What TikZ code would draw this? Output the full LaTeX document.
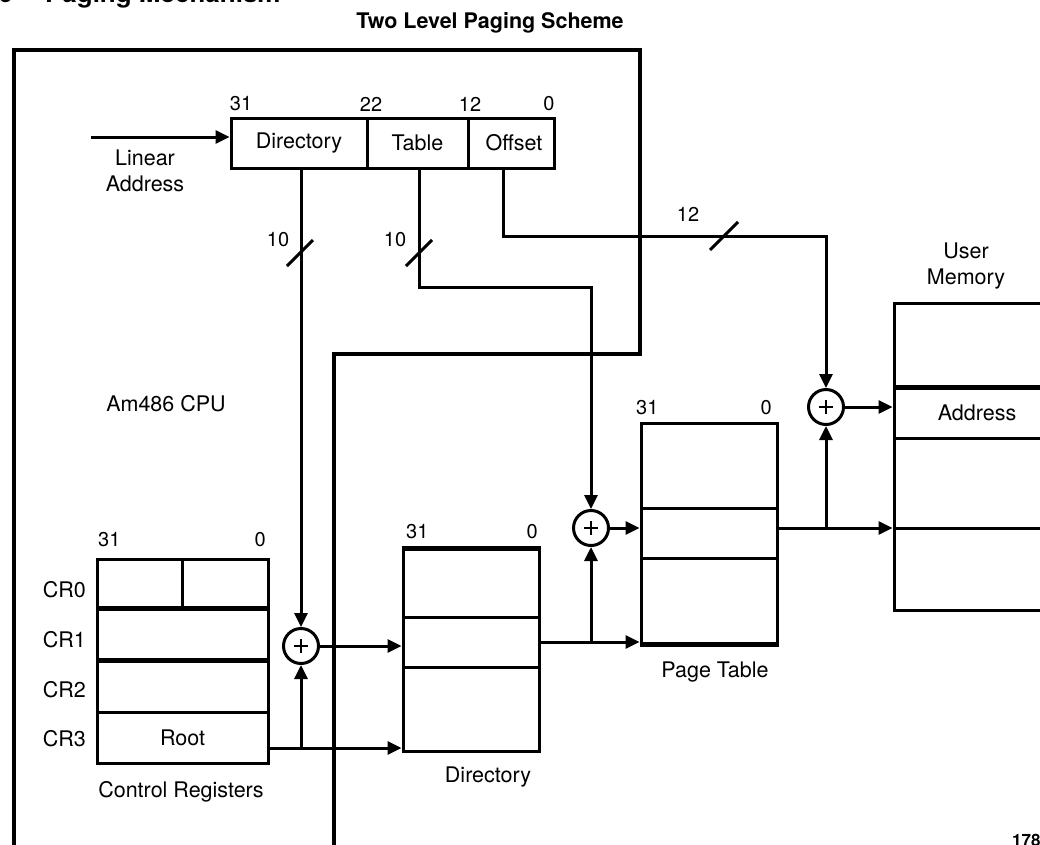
\documentclass[tikz,border=0pt]{standalone}
\usepackage{fontspec}
\setmainfont{TeX Gyre Heros}
\usetikzlibrary{arrows.meta}
\begin{document}
\begin{tikzpicture}[x=1pt,y=-1pt,
  lbl/.style={inner sep=0pt, font=\fontsize{21.5}{24}\selectfont},
  num/.style={inner sep=0pt, font=\fontsize{20}{24}\selectfont},
  frameline/.style={line width=4.5pt},
  box/.style={draw, line width=3pt, inner sep=0pt, font=\fontsize{21.5}{24}\selectfont},
  conn/.style={line width=3pt},
  arr/.style={conn, -{Triangle[length=14pt,width=13pt]}},
  adder/.style={circle, draw, line width=3pt, minimum size=35pt, inner sep=0pt,
    path picture={\draw[line width=2.2pt] (path picture bounding box.center) +(-7,0) -- +(7,0)
      (path picture bounding box.center) +(0,-7) -- +(0,7);}},
  busmark/.style={line width=3pt}
]
\useasboundingbox (0,0) rectangle (1040,844);

% clipped headings
\node[anchor=base east, inner sep=0pt, font=\fontsize{26}{28}\selectfont\bfseries] (fignum) at (13,2) {6};
\node[anchor=base west, inner sep=0pt, font=\fontsize{26}{28}\selectfont\bfseries] (figtitle) at (45,2) {Paging Mechanism};
\node[inner sep=0pt, font=\fontsize{21.5}{24}\selectfont\bfseries] (scheme) at (490,23) {Two Level Paging Scheme};
\node[anchor=west, inner sep=0pt, font=\fontsize{17}{20}\selectfont\bfseries] (figid) at (1012,840) {178};

% CPU frame
\draw[frameline] (14,850) -- (14,50) -- (640,50) -- (640,354) -- (334,354) -- (334,850);
\node[lbl] (cpu) at (166,404) {Am486 CPU};

% Linear address
\node[box, minimum width=136pt, minimum height=50pt] (ladir) at (299,143) {Directory};
\node[box, minimum width=101pt, minimum height=50pt] (latab) at (417.5,143) {Table};
\node[box, minimum width=86pt, minimum height=50pt] (laoff) at (511,143) {\hspace{6pt}Offset};
\node[num] (b31) at (241,104) {31};
\node[num] (b22) at (371,104) {22};
\node[num] (b12) at (470,104) {12};
\node[num] (b0) at (549,104) {0};
\coordinate (lin) at (91,137);
\draw[arr] (lin) -- (lin -| ladir.west);
\node[lbl, align=center] (linlbl) at (145,171) {Linear\\[2pt]Address};

% Control registers
\node[box, minimum width=171pt, minimum height=50pt] (cr0) at (182.5,584) {};
\node[box, minimum width=171pt, minimum height=52pt] (cr1) at (182.5,635) {};
\node[box, minimum width=171pt, minimum height=51pt] (cr2) at (182.5,686.5) {};
\node[box, minimum width=171pt, minimum height=51pt] (cr3) at (182.5,737.5) {Root};
\draw[line width=3pt] (cr0.north) -- (cr0.south);
\draw[line width=4pt] (cr1.north west) -- (cr1.north east);
\draw[line width=4pt] (cr2.north west) -- (cr2.north east);
\node[num, anchor=west] (c31) at (98,540) {31};
\node[num, anchor=east] (c0) at (266,540) {0};
\node[lbl, anchor=east] (l0) at (86,590) {CR0};
\node[lbl, anchor=east] (l1) at (86,640) {CR1};
\node[lbl, anchor=east] (l2) at (86,690) {CR2};
\node[lbl, anchor=east] (l3) at (86,739) {CR3};
\node[lbl] (crlbl) at (181,792) {Control Registers};

% Directory
\node[box, minimum width=136pt, minimum height=68pt] (d0) at (471,583) {};
\node[box, minimum width=136pt, minimum height=50pt] (d1) at (471,642) {};
\node[box, minimum width=136pt, minimum height=84pt] (d2) at (471,709) {};
\draw[line width=4pt] (d0.north west) -- (d0.north east);
\node[num, anchor=west] (d31) at (406,532) {31};
\node[num, anchor=east] (dz) at (538,532) {0};
\node[lbl] (dlbl) at (488,777) {Directory};

% Page table
\node[box, minimum width=136pt, minimum height=85pt] (p0) at (709,465.5) {};
\node[box, minimum width=136pt, minimum height=50pt] (p1) at (709,533) {};
\node[box, minimum width=136pt, minimum height=85pt] (p2) at (709,600.5) {};
\draw[line width=4pt] (p2.south west) -- (p2.south east);
\node[num, anchor=west] (p31) at (636,408) {31};
\node[num, anchor=east] (pz) at (772,408) {0};
\node[lbl] (plbl) at (715,672) {Page Table};

% User memory
\node[box, minimum width=176pt, minimum height=85pt] (m0) at (982,345.5) {};
\node[box, minimum width=176pt, minimum height=50pt] (m1) at (982,413) {\hspace{-10pt}Address};
\node[box, minimum width=176pt, minimum height=90pt] (m2) at (982,483) {};
\node[box, minimum width=176pt, minimum height=82pt] (m3) at (982,569) {};
\draw[line width=4pt] (m1.north west) -- (m1.north east);
\node[lbl, align=center] (mlbl) at (966,266) {User\\[2pt]Memory};

% Adders
\node[adder] (a0) at (301,646) {};
\node[adder] (a1) at (591,528) {};
\node[adder] (a2) at (826,407) {};

% Directory field -> adder 0
\draw[arr] (a0 |- ladir.south) -- (a0.north);
\draw[busmark] (287,266) -- (313,240);
\node[num] (n10a) at (278,240) {10};

% Table field -> adder 1
\coordinate (tbend) at (419,287);
\draw[arr] (tbend |- latab.south) -- (tbend) -| (a1.north);
\draw[busmark] (406,266) -- (432,240);
\node[num] (n10b) at (395,240) {10};

% Offset field -> adder 2
\coordinate (ost) at (503,168);
\coordinate (obd) at (503,236);
\draw[arr] (ost) -- (obd) -| (a2.north);
\draw[busmark] (710,250) -- (738,222);
\node[num] (n12) at (688,214) {12};

% Root -> directory and adder 0
\coordinate (rootout) at (268,748);
\draw[arr] (rootout) -- (rootout -| d2.west);
\draw[arr] (rootout -| a0) -- (a0.south);
\draw[arr] (a0.east) -- (a0.east -| d1.west);

% Directory -> page table and adder 1
\draw[arr] (d1.east) -- (d1.east -| p2.west);
\draw[arr] (d1.east -| a1) -- (a1.south);
\draw[arr] (a1.east) -- (a1.east -| p1.west);

% Page table -> memory and adder 2
\coordinate (pout) at (777,528);
\draw[arr] (pout) -- (pout -| m3.west);
\draw[arr] (pout -| a2) -- (a2.south);
\draw[arr] (a2.east) -- (a2.east -| m1.west);
\end{tikzpicture}
\end{document}
